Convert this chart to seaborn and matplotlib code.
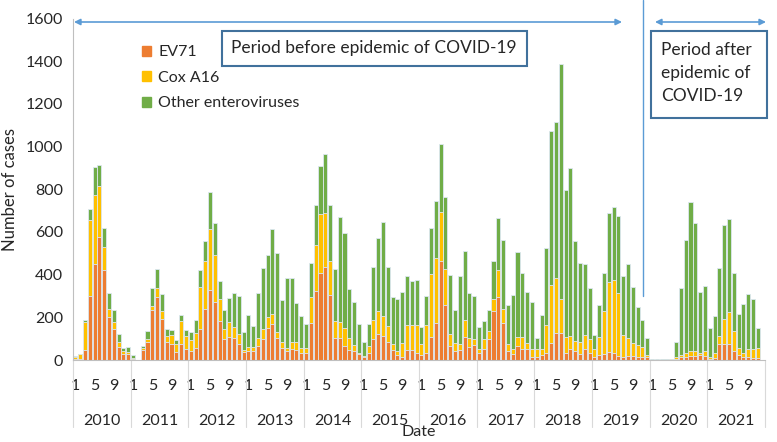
import numpy as np
import pandas as pd
import matplotlib.pyplot as plt
import seaborn as sns
from matplotlib.patches import Patch, Rectangle
from matplotlib.lines import Line2D
from matplotlib.transforms import blended_transform_factory

# monthly cases, Jan 2010 .. Dec 2021 (one row per year)
years = [str(y) for y in range(2010, 2022)]
month_labels = ['1', '5', '9']

ev71 = [5, 5, 48, 302, 448, 577, 423, 200, 146, 63, 28, 28,
        6, 0, 46, 86, 234, 294, 194, 86, 74, 37, 74, 52,
        43, 58, 146, 238, 328, 274, 185, 97, 109, 105, 77, 37,
        40, 40, 65, 97, 148, 171, 105, 58, 43, 52, 46, 31,
        31, 174, 325, 409, 435, 305, 102, 102, 66, 46, 40, 28,
        12, 35, 97, 123, 112, 82, 46, 23, 15, 48, 48, 31,
        25, 35, 108, 174, 463, 258, 66, 43, 46, 108, 62, 70,
        31, 51, 97, 228, 297, 174, 43, 28, 66, 51, 51, 15,
        15, 23, 31, 78, 128, 125, 34, 50, 44, 28, 50, 31,
        16, 25, 28, 39, 31, 19, 16, 19, 19, 16, 16, 12,
        1, 1, 1, 1, 1, 3, 12, 15, 18, 17, 23, 18,
        6, 8, 74, 74, 74, 43, 23, 12, 12, 8, 8, 0]

cox_a16 = [10, 22, 129, 352, 324, 240, 105, 38, 31, 20, 12, 9,
           4, 0, 12, 11, 21, 41, 34, 28, 43, 37, 108, 60,
           49, 70, 194, 224, 284, 218, 101, 49, 68, 49, 46, 12,
           22, 23, 40, 49, 55, 44, 27, 25, 11, 34, 40, 23,
           27, 123, 213, 273, 254, 161, 83, 75, 82, 56, 28, 7,
           6, 31, 92, 108, 93, 76, 28, 20, 63, 115, 118, 135,
           49, 127, 294, 304, 231, 167, 57, 35, 31, 81, 43, 30,
           20, 46, 38, 57, 123, 64, 31, 23, 43, 58, 29, 36,
           35, 27, 133, 274, 255, 159, 75, 62, 47, 58, 67, 66,
           34, 85, 203, 328, 344, 294, 101, 83, 59, 54, 43, 13,
           1, 1, 1, 1, 2, 9, 13, 20, 25, 26, 12, 25,
           6, 27, 38, 120, 149, 92, 35, 23, 39, 43, 46, 0]

other = [2, 3, 11, 54, 133, 95, 89, 77, 55, 40, 15, 25,
         12, 0, 8, 38, 80, 90, 80, 32, 25, 20, 29, 30,
         39, 58, 80, 96, 173, 148, 82, 86, 112, 161, 177, 82,
         150, 95, 207, 285, 289, 400, 368, 200, 328, 296, 179, 151,
         113, 158, 190, 226, 277, 262, 240, 494, 449, 229, 203, 136,
         64, 103, 245, 341, 441, 280, 223, 243, 242, 231, 203, 211,
         80, 138, 218, 268, 318, 338, 274, 154, 315, 323, 210, 200,
         103, 88, 100, 177, 246, 324, 184, 254, 399, 299, 237, 223,
         52, 161, 359, 723, 734, 1101, 688, 786, 467, 367, 333, 239,
         67, 150, 175, 321, 341, 362, 277, 348, 263, 177, 129, 80,
         2, 2, 2, 2, 3, 73, 310, 528, 695, 597, 282, 305,
         138, 173, 319, 437, 439, 273, 157, 227, 258, 234, 97, 0]

df = pd.DataFrame({'idx': np.arange(len(ev71)), 'EV71': ev71,
                   'Cox A16': cox_a16, 'Other enteroviruses': other})
df['ev_cox'] = df['EV71'] + df['Cox A16']
df['total'] = df['ev_cox'] + df['Other enteroviruses']

c_ev, c_cox, c_oth = '#ED7D31', '#FFC000', '#70AD47'
blue = '#5B9BD5'

sns.set_style('white')
plt.rcParams['font.family'] = ['Lato', 'DejaVu Sans']

W, H = 777, 442
fig = plt.figure(figsize=(W / 100, H / 100), dpi=100)
ax = fig.add_axes([73 / W, 1 - 360 / H, (765 - 73) / W, (360 - 18.5) / H])

# stacked bars: draw cumulative heights from the top down
for col, c in [('total', c_oth), ('ev_cox', c_cox), ('EV71', c_ev)]:
    sns.barplot(data=df, x='idx', y=col, color=c, saturation=1, width=0.84,
                errorbar=None, edgecolor='#dde8f2', linewidth=0.6, ax=ax)

n = len(df)
ax.set_xlim(-0.5, n - 0.5)
ax.set_ylim(0, 1600)
ax.set_yticks(range(0, 1601, 200))
ax.tick_params(axis='y', labelsize=11.5, length=4, color='#bfbfbf', pad=3)
pos = [i for i in range(n) if i % 12 in (0, 4, 8)]
ax.set_xticks(pos)
ax.set_xticklabels([month_labels[(i % 12) // 4] for i in pos], fontsize=11.5)
ax.tick_params(axis='x', length=0, pad=14)
ax.set_xlabel('')
ax.set_ylabel('Number of cases', fontsize=12, labelpad=6)
for s in ['top', 'right']:
    ax.spines[s].set_visible(False)
for s in ['left', 'bottom']:
    ax.spines[s].set_color('#bfbfbf')

trans = blended_transform_factory(ax.transData, ax.transAxes)
for k, yr in enumerate(years):
    ax.text(k * 12 + 5.5, -0.18, yr, transform=trans, ha='center', va='center', fontsize=11.5)
for k in range(len(years) + 1):
    ax.plot([k * 12 - 0.5] * 2, [0, -0.195], transform=trans, clip_on=False,
            color='#d9d9d9', lw=0.8)
fig.text(419 / W, 1 - 432 / H, 'Date', ha='center', va='center', fontsize=11.5)

# legend
handles = [Patch(color=c) for c in (c_ev, c_cox, c_oth)]
ax.legend(handles, ['EV71', 'Cox A16', 'Other enteroviruses'], frameon=False,
          loc='upper left', bbox_to_anchor=(128 / W, 1 - 31 / H),
          bbox_transform=fig.transFigure, handlelength=0.55, handleheight=0.55,
          handletextpad=0.45, labelspacing=0.72, fontsize=11.5)

# annotations: arrows, divider and boxes
arrow = dict(arrowstyle='<|-|>', color=blue, lw=1.2, mutation_scale=9,
             shrinkA=0, shrinkB=0)
fig_px = lambda x, y: (x / W, 1 - y / H)
ax.annotate('', xy=fig_px(622, 22), xytext=fig_px(74, 22),
            xycoords='figure fraction', arrowprops=arrow)
ax.annotate('', xy=fig_px(766, 22), xytext=fig_px(655, 22),
            xycoords='figure fraction', arrowprops=arrow)
fig.add_artist(Line2D([643 / W] * 2, [1, 1 - 296 / H], color=blue, lw=1))

box_ec = '#41719C'
fig.add_artist(Rectangle(fig_px(222, 66), 305 / W, 35 / H, transform=fig.transFigure,
                         fc='white', ec=box_ec, lw=1.5))
fig.text(374 / W, 1 - 48 / H, 'Period before epidemic of COVID-19',
         ha='center', va='center', fontsize=12.5)
fig.add_artist(Rectangle(fig_px(651, 118), 116 / W, 87 / H, transform=fig.transFigure,
                         fc='white', ec=box_ec, lw=1.5))
fig.text(661 / W, 1 - 73 / H, 'Period after\nepidemic of\nCOVID-19',
         ha='left', va='center', fontsize=12.5, linespacing=1.55)

fig.savefig('out.png', dpi=100)
